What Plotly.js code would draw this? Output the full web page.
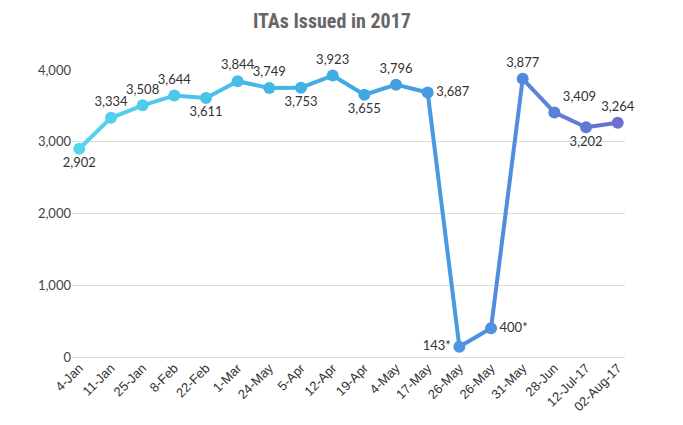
<!DOCTYPE html>
<html>
<head>
<meta charset="utf-8">
<script src="https://cdn.plot.ly/plotly-3.0.1.min.js"></script>
<style>html,body{margin:0;padding:0;background:#fff;}#chart{width:683px;height:425px;}</style>
</head>
<body>
<div id="chart"></div>
<script>
// Data
const dates = ["4-Jan","11-Jan","25-Jan","8-Feb","22-Feb","1-Mar","24-May","5-Apr","12-Apr","19-Apr","4-May","17-May","26-May","26-May","31-May","28-Jun","12-Jul-17","02-Aug-17"];
const itas = [2902,3334,3508,3644,3611,3844,3749,3753,3923,3655,3796,3687,143,400,3877,3409,3202,3264];
const notes = ["","","","","","","","","","","","","*","*","","","",""];
const labelPos = ["bottom center","top center","top center","top center","bottom center","top center","top center","bottom center","top center","bottom center","top center","middle right","middle left","middle right","top center","top right","bottom center","top center"];

const n = itas.length;
const idx = itas.map((_, i) => i);

// colour gradient along the line
const stops = [[0,[86,214,236]],[0.5,[62,170,226]],[0.78,[80,142,224]],[1,[106,112,204]]];
function grad(t){
  for(let k=0;k<stops.length-1;k++){
    const a=stops[k], b=stops[k+1];
    if(t<=b[0]){
      const u=(t-a[0])/(b[0]-a[0]);
      const c=a[1].map((v,j)=>Math.round(v+(b[1][j]-v)*u));
      return 'rgb('+c.join(',')+')';
    }
  }
  return 'rgb('+stops[stops.length-1][1].join(',')+')';
}

const traces = [];
for(let i=0;i<n-1;i++){
  traces.push({
    x:[idx[i],idx[i+1]], y:[itas[i],itas[i+1]],
    mode:'lines', type:'scatter', hoverinfo:'skip', showlegend:false,
    line:{color:grad((i+0.5)/(n-1)), width:4}
  });
}
traces.push({
  x: idx, y: itas, type:'scatter', mode:'markers+text', showlegend:false,
  marker:{size:12, color: idx.map(i=>grad(i/(n-1)))},
  text: itas.map((v,i)=>v.toLocaleString('en-US')+notes[i]),
  textposition: labelPos,
  textfont:{family:'Lato, sans-serif', size:13, color:'#333'},
  cliponaxis:false
});

const layout = {
  width:683, height:425,
  margin:{l:72, r:58, t:70, b:68},
  paper_bgcolor:'#fff', plot_bgcolor:'#fff',
  title:{text:'<b>ITAs Issued in 2017</b>', x:0.486, xanchor:'center', y:0.95, yanchor:'middle',
         font:{family:'"Liberation Sans Narrow", "Roboto Condensed", Roboto, sans-serif', size:20, color:'#666'}},
  xaxis:{range:[-0.23, n-1+0.23], tickmode:'array', tickvals:idx, ticktext:dates, tickangle:-45,
         showgrid:false, zeroline:false, showline:false, ticks:'',
         tickfont:{family:'"Liberation Sans", Arial, sans-serif', size:13, color:'#333'}},
  yaxis:{range:[0,4000], tickvals:[0,1000,2000,3000,4000], tickformat:',d',
         showgrid:true, gridcolor:'#dcdcdc', gridwidth:1, zeroline:true, zerolinecolor:'#dcdcdc', zerolinewidth:1,
         showline:false, ticks:'', ticklen:0,
         tickfont:{family:'Lato, sans-serif', size:13, color:'#444'}}
};

Plotly.newPlot('chart', traces, layout, {displayModeBar:false, staticPlot:true});
</script>
</body>
</html>
